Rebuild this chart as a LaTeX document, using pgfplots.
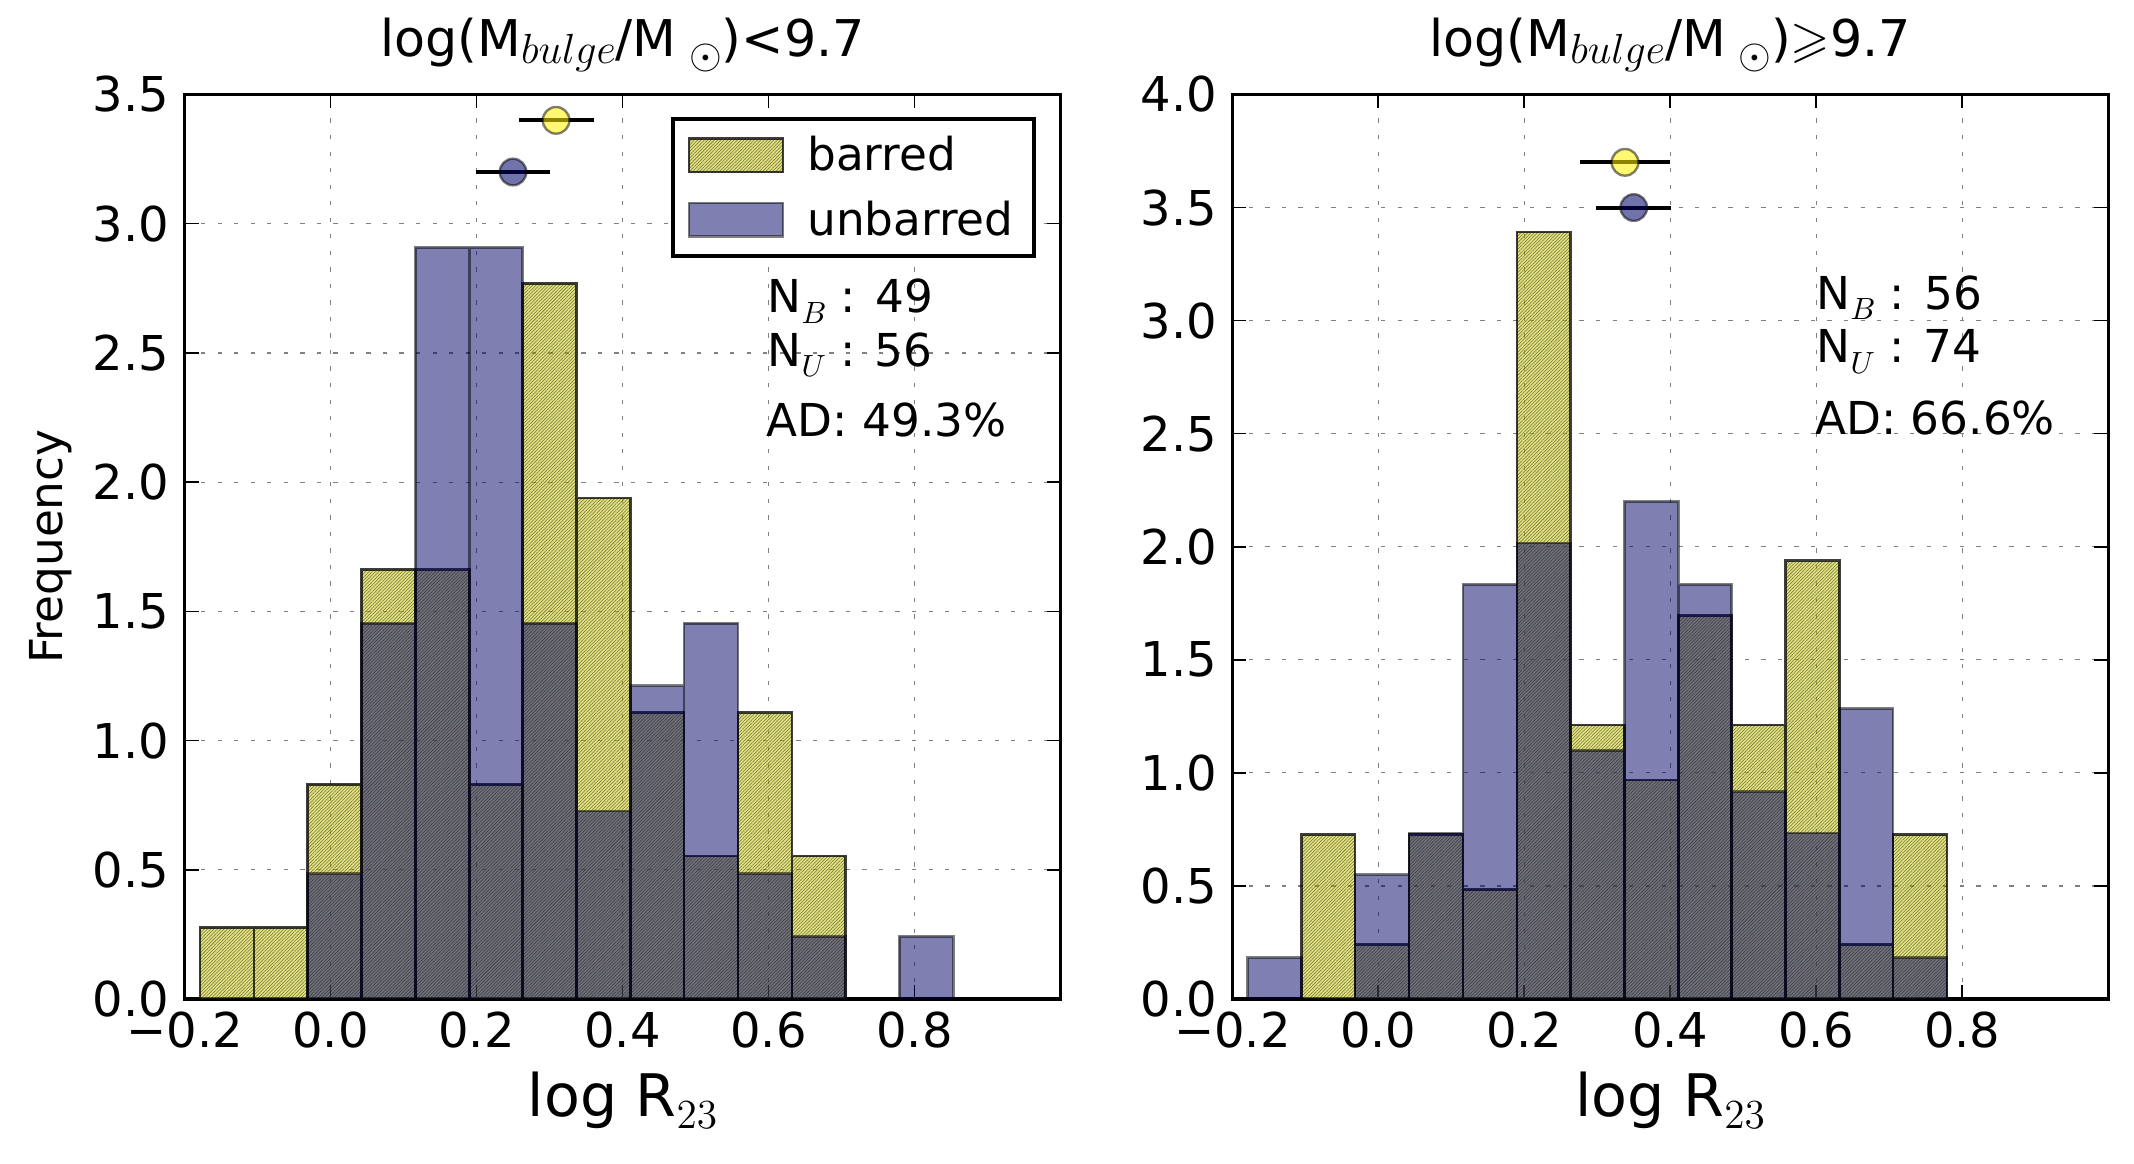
\RequirePackage{fix-cm}
\documentclass[border=0pt]{standalone}
\usepackage{amssymb}
\usepackage[no-math]{fontspec}
\setmainfont{DejaVu Sans}
\usepackage{pgfplots}
\pgfplotsset{compat=1.18}
\usetikzlibrary{patterns.meta}

\definecolor{ybase}{rgb}{0.78,0.78,0}
\definecolor{bbase}{rgb}{0,0,0.4}

\newcommand\sub[3]{\raisebox{#1}{\fontsize{#2}{#2}\selectfont$#3$}}
\newcommand\ttl[1]{\fontsize{19}{22}\selectfont log(M\sub{-2.6pt}{15.8}{bulge}/M\hspace{4.7pt}\sub{-4.4pt}{15.8}{\odot})#1}

\tikzset{txt/.style={anchor=base west, inner sep=0pt, font=\fontsize{17}{20}\selectfont}}

\pgfplotsset{
  myaxis/.style={
    scale only axis, width=328.5pt, height=339.2pt,
    xmin=-0.2, xmax=1.0, ymin=0,
    xtick={-0.2,0,0.2,0.4,0.6,0.8},
    xticklabels={−0.2,0.0,0.2,0.4,0.6,0.8},
    tick align=inside, xtick pos=both, ytick pos=both,
    xticklabel pos=lower, yticklabel pos=left,
    major tick length=5.25pt,
    every tick/.style={black, line width=0.6pt},
    axis line style={line width=1.25pt},
    grid=major,
    grid style={black!50, line width=0.45pt, dash pattern=on 1.6pt off 4.6pt},
    tick label style={font=\fontsize{18}{21}\selectfont},
    xticklabel style={anchor=north, inner sep=0pt, yshift=-4.8pt},
    yticklabel style={anchor=east, inner sep=0pt, xshift=-5.6pt,
      /pgf/number format/.cd, fixed, fixed zerofill, precision=1, assume math mode=true},
    title style={at={(axis description cs:0.5,1.0245)}, anchor=base, inner sep=0pt},
    xlabel style={font=\fontsize{22}{26}\selectfont, at={(axis description cs:0.5,-0.130)}, anchor=base, inner sep=0pt},
    xlabel={log R\sub{-4.4pt}{15.5}{23}},
  },
  barB/.style={ybar interval, fill=ybase, fill opacity=0.5, draw=black, draw opacity=0.5, line width=1pt,
    postaction={pattern={Lines[angle=45,distance=0.88pt,line width=0.2pt]}, pattern color=black, fill opacity=0.3},
    legend image code/.code={\draw[##1] (0pt,-6.25pt) rectangle (35.3pt,6.25pt);}},
  barU/.style={ybar interval, fill=bbase, fill opacity=0.5, draw=black, draw opacity=0.5, line width=1pt,
    legend image code/.code={\draw[##1] (0pt,-6.25pt) rectangle (35.3pt,6.25pt);}},
  markB/.style={only marks, mark=*, mark size=5pt, forget plot,
    mark options={fill=yellow, fill opacity=0.55, draw=black, draw opacity=0.5, line width=0.9pt},
    error bars/.cd, x dir=both, x explicit, error mark=none, error bar style={line width=1.5pt, black}},
  markU/.style={only marks, mark=*, mark size=5pt, forget plot,
    mark options={fill=bbase, fill opacity=0.55, draw=black, draw opacity=0.5, line width=0.9pt},
    error bars/.cd, x dir=both, x explicit, error mark=none, error bar style={line width=1.5pt, black}},
}

\begin{document}
\begin{tikzpicture}
\useasboundingbox (0,0) rectangle (800.25pt,436.125pt);

\begin{axis}[myaxis, at={(69.2pt,61.5pt)}, anchor=south west,
  ymax=3.5, ytick={0,0.5,1,1.5,2,2.5,3,3.5},
  title={\ttl{<9.7}},
  ylabel={Frequency},
  ylabel style={font=\fontsize{17}{20}\selectfont, at={(axis description cs:-0.1388,0.5)}, anchor=base, inner sep=0pt},
  legend style={at={(0.9717,0.9746)}, anchor=north east, draw=black, line width=1.5pt, fill=white,
    inner xsep=5.6pt, inner ysep=4.3pt, row sep=5.7pt, column sep=6.6pt,
    font=\fontsize{17}{20}\selectfont, nodes={inner sep=2pt, text depth=0.15em}, cells={anchor=west}},
]
\addplot[barB] coordinates {(-0.179,0.277) (-0.105,0.277) (-0.032,0.831) (0.042,1.661) (0.116,1.661) (0.190,0.831) (0.263,2.769) (0.337,1.938) (0.411,1.108) (0.484,0.554) (0.558,1.108) (0.632,0.554) (0.705,0) (0.779,0) (0.853,0) (0.926,0)};
\addlegendentry{barred}
\addplot[barU] coordinates {(-0.179,0) (-0.105,0) (-0.032,0.485) (0.042,1.454) (0.116,2.908) (0.190,2.908) (0.263,1.454) (0.337,0.727) (0.411,1.212) (0.484,1.454) (0.558,0.485) (0.632,0.242) (0.705,0) (0.779,0.242) (0.853,0) (0.926,0)};
\addlegendentry{unbarred}
\addplot[markB] coordinates {(0.309,3.4) +- (0.0515,0)};
\addplot[markU] coordinates {(0.250,3.2) +- (0.051,0)};
\node[txt] at (axis cs:0.598,2.657) {N\sub{-4pt}{11.5}{B} : 49};
\node[txt] at (axis cs:0.598,2.449) {N\sub{-4pt}{11.5}{U} : 56};
\node[txt] at (axis cs:0.597,2.178) {AD: 49.3\%};
\end{axis}

\begin{axis}[myaxis, at={(462.1pt,61.5pt)}, anchor=south west,
  ymax=4.0, ytick={0,0.5,1,1.5,2,2.5,3,3.5,4},
  title={\ttl{$\geqslant$9.7}},
]
\addplot[barB] coordinates {(-0.179,0) (-0.105,0.727) (-0.032,0.242) (0.042,0.727) (0.116,0.485) (0.190,3.392) (0.263,1.212) (0.337,0.969) (0.411,1.696) (0.484,1.212) (0.558,1.938) (0.632,0.242) (0.705,0.727) (0.779,0) (0.853,0) (0.926,0)};
\addplot[barU] coordinates {(-0.179,0.183) (-0.105,0) (-0.032,0.550) (0.042,0.734) (0.116,1.834) (0.190,2.017) (0.263,1.100) (0.337,2.201) (0.411,1.834) (0.484,0.917) (0.558,0.734) (0.632,1.284) (0.705,0.183) (0.779,0) (0.853,0) (0.926,0)};
\addplot[markB] coordinates {(0.338,3.7) +- (0.062,0)};
\addplot[markU] coordinates {(0.350,3.5) +- (0.0515,0)};
\node[txt] at (axis cs:0.6,3.050) {N\sub{-4pt}{11.5}{B} : 56};
\node[txt] at (axis cs:0.6,2.814) {N\sub{-4pt}{11.5}{U} : 74};
\node[txt] at (axis cs:0.598,2.497) {AD: 66.6\%};
\end{axis}
\end{tikzpicture}
\end{document}
